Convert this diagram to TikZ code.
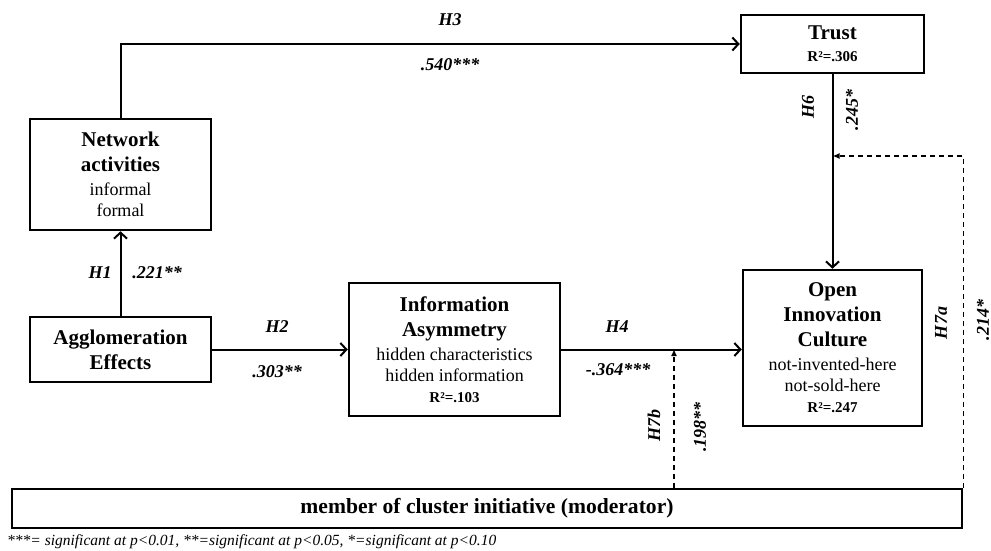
\documentclass[tikz,border=0pt]{standalone}
\usepackage{fontspec}
\setmainfont{Liberation Serif}
\usetikzlibrary{arrows.meta}
\newcommand\bt{\bfseries\fontsize{21}{25}\selectfont}
\newcommand\rt{\mdseries\fontsize{18}{21}\selectfont}
\newcommand\rs{\bfseries\fontsize{15}{18}\selectfont}
\begin{document}
\begin{tikzpicture}[x=1pt,y=-1pt,
  box/.style={draw, line width=2.5pt, inner sep=0pt, align=center, font=\rt},
  arr/.style={line width=2pt, -{Straight Barb[length=6pt,width=13pt,line width=2pt]}},
  modline/.style={line width=1.4pt, dash pattern=on 5pt off 4pt, -{Latex[length=7pt,width=6pt]}},
  lab/.style={font=\bfseries\itshape\fontsize{18}{20}\selectfont, inner sep=1pt}]
\useasboundingbox (0,0) rectangle (991,551);
\fill[white] (0,0) rectangle (991,551);

\node[box, minimum width=181pt, minimum height=111pt] (net) at (120.5,174.5)
  {\bt Network\\[4pt]\bt activities\\[3pt]\rt informal\\\rt formal};
\node[box, minimum width=181pt, minimum height=65pt] (agg) at (120.5,349.5)
  {\bt Agglomeration\\[4pt]\bt Effects};
\node[box, minimum width=211pt, minimum height=133pt] (info) at (454.5,349.5)
  {\bt Information\\[4pt]\bt Asymmetry\\[3pt]\rt hidden characteristics\\\rt hidden information\\\rs R²=.103};
\node[box, minimum width=179pt, minimum height=156pt] (open) at (832.5,348)
  {\bt Open\\[4pt]\bt Innovation\\[4pt]\bt Culture\\[3pt]\rt not-invented-here\\\rt not-sold-here\\\rs R²=.247};
\node[box, minimum width=183pt, minimum height=58pt] (trust) at (832.5,44)
  {\bt Trust\\[1pt]\rs R²=.306};
\node[box, minimum width=950pt, minimum height=39pt] (mod) at (487,508.5)
  {\bfseries\fontsize{21.6}{25}\selectfont member of cluster initiative (moderator)};

\draw[arr] (net.north) |- (trust.west);
\draw[arr] (agg.north) -- (net.south);
\draw[arr] (agg.east) -- (info.west);
\draw[arr] (info.east) -- (info.east -| open.west);
\draw[arr] (trust.south) -- (open.north);

\coordinate (m7b) at (674,349);
\coordinate (m7a) at (832.5,156);
\draw[modline] (mod.north -| m7b) -- (m7b);
\draw[modline] (mod.north east) |- (m7a);

\node[lab] (h3) at (450,20) {H3};
\node[lab] (c3) at (450,65) {.540***};
\node[lab] (h1) at (100,273) {H1};
\node[lab] (c1) at (157,273) {.221**};
\node[lab] (h2) at (277,327) {H2};
\node[lab] (c2) at (277,372) {.303**};
\node[lab] (h4) at (617,327) {H4};
\node[lab] (c4) at (618,370) {-.364***};
\node[lab, rotate=90] (h6) at (808,107) {H6};
\node[lab, rotate=90] (c6) at (852,110) {.245*};
\node[lab, rotate=90] (h7b) at (654,425) {H7b};
\node[lab, rotate=90] (c7b) at (700,427) {.198**};
\node[lab, rotate=90] (h7a) at (941,323) {H7a};
\node[lab, rotate=90] (c7a) at (983,320) {.214*};

\node[anchor=west, inner sep=0pt, font=\itshape\fontsize{15.5}{17}\selectfont] (note) at (7,542)
  {***= significant at p<0.01, **=significant at p<0.05, *=significant at p<0.10};
\end{tikzpicture}
\end{document}
